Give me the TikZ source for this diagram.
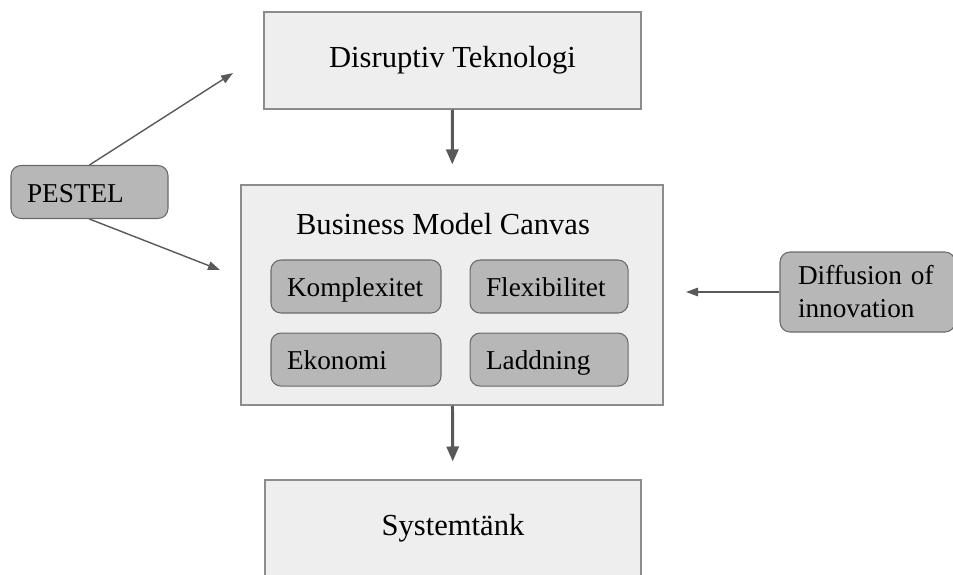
\documentclass[tikz,border=0pt]{standalone}
\usepackage{fontspec}
\setmainfont{Liberation Serif}
\usetikzlibrary{arrows.meta, positioning}

\definecolor{boxfill}{HTML}{EEEEEE}
\definecolor{boxedge}{HTML}{8C8C8C}
\definecolor{tagfill}{HTML}{B7B7B7}
\definecolor{tagedge}{HTML}{6A6A6A}
\definecolor{arrowgray}{HTML}{595959}

\begin{document}
\begin{tikzpicture}[
    >=Latex, % Default arrow tip
    bigbox/.style={draw=boxedge, fill=boxfill, line width=0.6pt, inner sep=0pt,
        minimum width=#1, minimum height=1.94cm, font=\fontsize{17.4}{21}\selectfont}, % Style for the main boxes
    tag/.style={draw=tagedge, fill=tagfill, line width=0.6pt, rounded corners=0.2cm,
        inner xsep=0.32cm, inner ysep=0pt, text width=#1, align=left, minimum height=1.06cm,
        font=\fontsize{15.5}{18.8}\selectfont}, % Style for the grey labels
    oneline/.style={text height=0.5cm, text depth=0.1cm}, % Same baseline in every one-line label
    thickarrow/.style={->, arrowgray, line width=1.7pt, >={Triangle[length=0.3cm, width=0.24cm]}}, % Vertical flow arrows
    thinarrow/.style={->, arrowgray, line width=0.8pt, >={Triangle[length=0.24cm, width=0.17cm]}} % Side arrows
]

    % Frame of the picture
    \clip (0, 0) rectangle (19.06, -11.48);

    % --- Main column ---
    \node[bigbox=7.54cm] (disrupt) at (9.05, -1.21) {Disruptiv Teknologi};
    \node[bigbox=8.44cm, minimum height=4.4cm] (bmc) at (9.04, -5.9) {};
    \node[font=\fontsize{17.4}{21}\selectfont] (bmctitle) at (8.86, -4.48) {Business Model Canvas};
    \node[bigbox=7.52cm] (system) at (9.06, -10.57) {Systemtänk};

    % --- Inner labels of the canvas ---
    \node[tag=2.76cm, oneline] (komplex) at (7.12, -5.73) {Komplexitet};
    \node[tag=2.52cm, oneline, right=0.56cm of komplex] (flex) {Flexibilitet};
    \node[tag=2.76cm, oneline, below=0.38cm of komplex] (ekonomi) {Ekonomi};
    \node[tag=2.52cm, oneline, below=0.38cm of flex] (laddning) {Laddning};

    % --- Side labels ---
    \node[tag=2.5cm, oneline] (pestel) at (1.79, -3.84) {PESTEL};
    \node[tag=2.78cm, inner xsep=0.36cm, minimum height=1.6cm] (diffusion) at (17.35, -5.84) {Diffusion of\\innovation};

    % Free ends of the side arrows
    \coordinate (pestelup) at (4.66, -1.46);
    \coordinate (pesteldown) at (4.4, -5.4);
    \coordinate (diffend) at (13.72, -5.84);

    % --- Arrows ---
    \draw[thickarrow, shorten >=0.4cm] (disrupt) -- (bmc);
    \draw[thickarrow, shorten >=0.36cm] (bmc) -- (system);
    \draw[thinarrow] (pestel.north) -- (pestelup);
    \draw[thinarrow] (pestel.south) -- (pesteldown);
    \draw[thinarrow] (diffusion.west) -- (diffend);

\end{tikzpicture}
\end{document}
